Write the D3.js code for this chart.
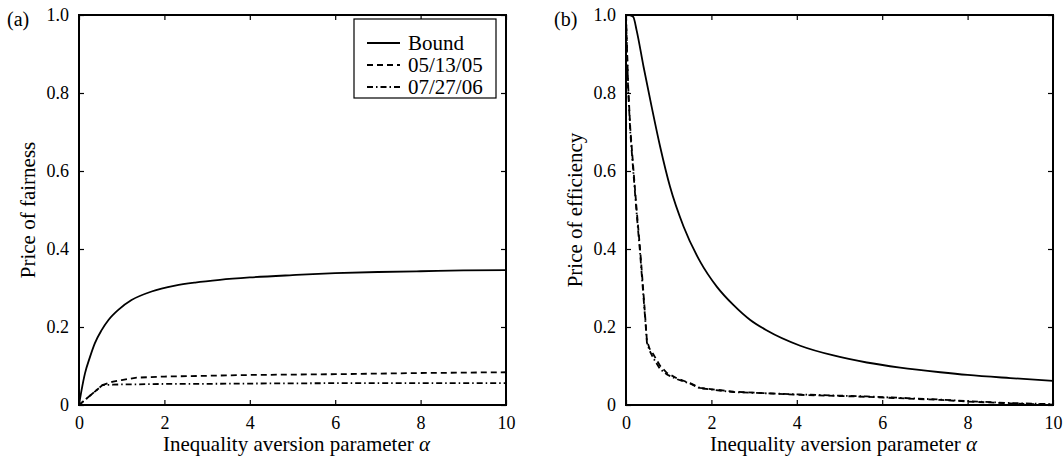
<!DOCTYPE html>
<html>
<head>
<meta charset="utf-8">
<script src="https://cdn.jsdelivr.net/npm/d3@7"></script>
<style>
  body { margin: 0; background: #fff; }
  svg { font-family: "Liberation Serif", "Times New Roman", serif; }
</style>
</head>
<body>
<svg width="1063" height="461"></svg>
<script>
// panel (a): price of fairness
const alphaFairBound = [0, 0.06, 0.14, 0.26, 0.37, 0.53, 0.69, 0.92, 1.23, 1.7, 2.25, 2.72, 3.3, 4, 5, 6, 7, 8, 9, 10];
const fairBound = [0, 0.038, 0.081, 0.124, 0.158, 0.192, 0.218, 0.244, 0.269, 0.291, 0.306, 0.314, 0.321, 0.327, 0.333, 0.338, 0.341, 0.343, 0.345, 0.346];
const alphaFairData = [0, 0.55, 0.8, 1, 1.35, 2, 2.56, 4, 6, 8, 10];
const fair051305 = [0, 0.051, 0.06, 0.064, 0.07, 0.073, 0.074, 0.077, 0.079, 0.082, 0.084];
const fair072706 = [0, 0.051, 0.052, 0.053, 0.053, 0.054, 0.054, 0.055, 0.056, 0.056, 0.056];

// panel (b): price of efficiency
const alphaEffBound = [0, 0.08, 0.17, 0.25, 0.41, 0.6, 0.8, 1.03, 1.35, 1.74, 2.13, 2.52, 2.91, 3.3, 4.08, 4.86, 5.64, 6.42, 7.36, 8, 9, 10];
const effBound = [1, 1, 0.995, 0.96, 0.868, 0.765, 0.662, 0.56, 0.457, 0.367, 0.303, 0.256, 0.218, 0.191, 0.152, 0.127, 0.109, 0.096, 0.084, 0.077, 0.069, 0.062];
const alphaEffData = [0, 0.02, 0.05, 0.1, 0.17, 0.25, 0.33, 0.4, 0.45, 0.49, 0.55, 0.64, 0.8, 0.96, 1.2, 1.5, 1.73, 2.52, 4.08, 5.64, 7.36, 8, 9, 10];
const eff051305 = [1, 0.93, 0.82, 0.71, 0.61, 0.5, 0.4, 0.3, 0.226, 0.165, 0.145, 0.13, 0.1, 0.082, 0.068, 0.056, 0.044, 0.034, 0.026, 0.021, 0.013, 0.009, 0.004, 0.001];
const eff072706 = [1, 0.92, 0.81, 0.7, 0.6, 0.49, 0.39, 0.29, 0.22, 0.16, 0.14, 0.12, 0.092, 0.078, 0.066, 0.055, 0.043, 0.033, 0.027, 0.022, 0.014, 0.01, 0.005, 0.002];

const xTicks = [0, 2, 4, 6, 8, 10];
const yTicks = [0, 0.2, 0.4, 0.6, 0.8, 1.0];
const yTickLabels = ['0', '0.2', '0.4', '0.6', '0.8', '1.0'];
const seriesNames = ['Bound', '05/13/05', '07/27/06'];

const dashes = [null, '6,4', '6,3,1.5,3'];
const svg = d3.select('svg');
const plotTop = 15, plotBottom = 405, plotW = 427;

function panel(left, tag, ylabel, series, legend) {
    const x = d3.scaleLinear().domain([0, 10]).range([left, left + plotW]);
    const y = d3.scaleLinear().domain([0, 1]).range([plotBottom, plotTop]);
    const g = svg.append('g');

    series.forEach(function(s, i) {
        const line = d3.line()
            .x(function(d, j) { return x(s.xs[j]); })
            .y(function(d) { return y(d); })
            .curve(i === 0 ? d3.curveMonotoneX : d3.curveLinear);
        g.append('path')
            .attr('d', line(s.ys))
            .attr('fill', 'none')
            .attr('stroke', '#000')
            .attr('stroke-width', 1.8)
            .attr('stroke-dasharray', dashes[i]);
    });

    const fmt = function(d) { return yTickLabels[yTicks.indexOf(d)]; };
    const ax = [
        g.append('g').attr('transform', `translate(0,${plotBottom})`)
            .call(d3.axisBottom(x).tickValues(xTicks).tickSize(-5).tickPadding(11).tickFormat(d3.format('d'))),
        g.append('g').attr('transform', `translate(0,${plotTop})`)
            .call(d3.axisTop(x).tickValues(xTicks).tickSize(-5).tickFormat('')),
        g.append('g').attr('transform', `translate(${left},0)`)
            .call(d3.axisLeft(y).tickValues(yTicks).tickSize(-5).tickPadding(10).tickFormat(fmt)),
        g.append('g').attr('transform', `translate(${left + plotW},0)`)
            .call(d3.axisRight(y).tickValues(yTicks).tickSize(-5).tickFormat(''))
    ];
    ax.forEach(function(a) {
        a.select('.domain').remove();
        a.selectAll('line').attr('stroke-width', 1.2);
        a.selectAll('text').attr('font-family', '"Liberation Serif", serif').attr('font-size', 18).attr('fill', '#000');
    });

    g.append('rect')
        .attr('x', left).attr('y', plotTop)
        .attr('width', plotW).attr('height', plotBottom - plotTop)
        .attr('fill', 'none').attr('stroke', '#000').attr('stroke-width', 2);

    g.append('text')
        .attr('x', left + plotW / 2 + 4).attr('y', 451)
        .attr('text-anchor', 'middle').attr('font-size', 21)
        .html('Inequality aversion parameter <tspan font-style="italic">α</tspan>');

    g.append('text')
        .attr('transform', `translate(${left - 44},${(plotTop + plotBottom) / 2}) rotate(-90)`)
        .attr('text-anchor', 'middle').attr('font-size', 21)
        .text(ylabel);

    g.append('text')
        .attr('x', left - 72).attr('y', 26)
        .attr('font-size', 20)
        .text(tag);

    if (legend) {
        const lg = g.append('g').attr('transform', 'translate(354,19)');
        lg.append('rect').attr('width', 142).attr('height', 79)
            .attr('fill', '#fff').attr('stroke', '#000').attr('stroke-width', 1.2);
        seriesNames.forEach(function(name, i) {
            const yy = 24 + i * 22;
            lg.append('line').attr('x1', 13).attr('x2', 46).attr('y1', yy).attr('y2', yy)
                .attr('stroke', '#000').attr('stroke-width', 1.8)
                .attr('stroke-dasharray', dashes[i]);
            lg.append('text').attr('x', 54).attr('y', yy + 7)
                .attr('font-size', 21).text(name);
        });
    }
}

panel(79, '(a)', 'Price of fairness', [
    { xs: alphaFairBound, ys: fairBound },
    { xs: alphaFairData, ys: fair051305 },
    { xs: alphaFairData, ys: fair072706 }
], true);

panel(626, '(b)', 'Price of efficiency', [
    { xs: alphaEffBound, ys: effBound },
    { xs: alphaEffData, ys: eff051305 },
    { xs: alphaEffData, ys: eff072706 }
], false);
</script>
</body>
</html>
